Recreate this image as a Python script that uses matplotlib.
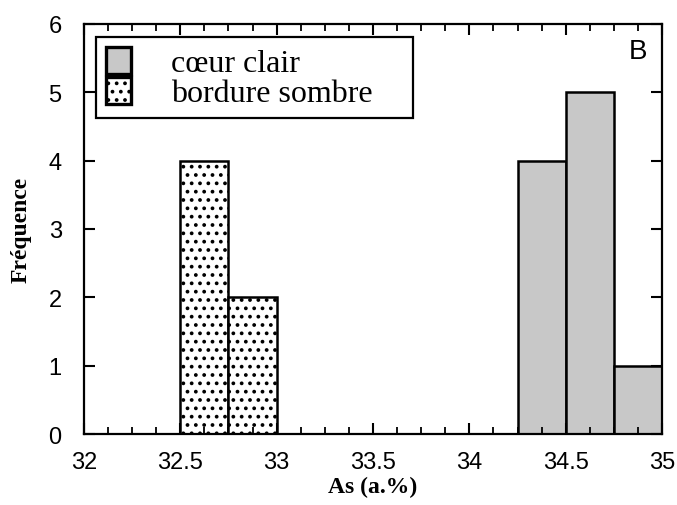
import matplotlib.pyplot as plt
from matplotlib.patches import Patch
from matplotlib.ticker import MultipleLocator

# bin edges (left) and counts
bin_width = 0.25
coeur_bins = [34.25, 34.5, 34.75]
coeur_counts = [4, 5, 1]
bordure_bins = [32.5, 32.75]
bordure_counts = [4, 2]

x_ticks = [32, 32.5, 33, 33.5, 34, 34.5, 35]
x_labels = ["32", "32.5", "33", "33.5", "34", "34.5", "35"]
labels = ["cœur clair", "bordure sombre"]

gray = '#c8c8c8'
plt.rcParams['hatch.linewidth'] = 1.5

fig = plt.figure(figsize=(6.77, 5.06), dpi=100)
ax = fig.add_axes([0.124, 0.140, 0.854, 0.811])

ax.bar(coeur_bins, coeur_counts, width=bin_width, align='edge',
       color=gray, edgecolor='black', linewidth=1.8)
ax.bar(bordure_bins, bordure_counts, width=bin_width, align='edge',
       color='white', edgecolor='black', linewidth=1.8, hatch='..')

ax.set_xlim(32, 35)
ax.set_ylim(0, 6)
ax.set_xticks(x_ticks)
ax.set_xticklabels(x_labels)
ax.xaxis.set_minor_locator(MultipleLocator(0.125))
ax.yaxis.set_major_locator(MultipleLocator(1))

ax.tick_params(which='both', direction='in', top=True, right=True,
               labelsize=17, width=1.5)
ax.tick_params(which='major', length=8)
ax.tick_params(axis='x', pad=12)
ax.tick_params(axis='y', pad=16)
ax.tick_params(which='minor', length=5, width=1.3)
for lab in ax.get_xticklabels() + ax.get_yticklabels():
    lab.set_family('Liberation Sans')
for sp in ax.spines.values():
    sp.set_linewidth(1.6)

ax.set_xlabel("As (a.%)", family='Liberation Serif', fontweight='bold',
              fontsize=17, labelpad=2)
ax.set_ylabel("Fréquence", family='Liberation Serif', fontweight='bold',
              fontsize=17, labelpad=12)

ax.text(0.975, 0.965, "B", transform=ax.transAxes, ha='right', va='top',
        family='Liberation Sans', fontsize=20)

handles = [Patch(facecolor=gray, edgecolor='black', linewidth=2.4),
           Patch(facecolor='white', edgecolor='black', linewidth=2.4, hatch='..')]
leg = ax.legend(handles, labels, loc='upper left', mode='expand',
                bbox_to_anchor=(0.0208, 0.5, 0.548, 0.468),
                prop={'family': 'Liberation Serif', 'size': 23},
                frameon=True, fancybox=False, framealpha=1,
                edgecolor='black', handlelength=0.8, handleheight=0.95,
                handletextpad=1.25, labelspacing=-0.05, borderpad=0.3,
                borderaxespad=0)
leg.get_frame().set_linewidth(1.6)

fig.savefig("out.png", dpi=100)
